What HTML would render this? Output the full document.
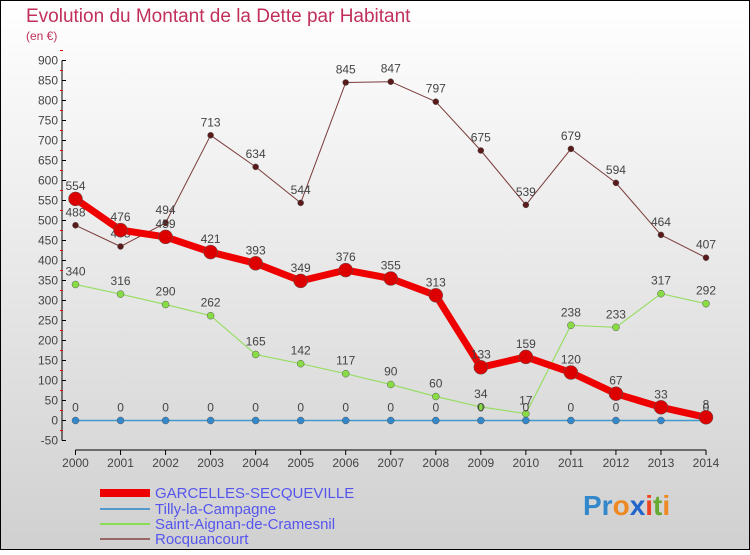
<!DOCTYPE html>
<html><head><meta charset="utf-8"><style>
body{margin:0}
#c{width:750px;height:550px;position:relative;font-family:"Liberation Sans",sans-serif;}
</style></head><body>
<div id="c">
<svg id="s" width="750" height="550" xmlns="http://www.w3.org/2000/svg">
<defs><linearGradient id="bg" x1="0" y1="0" x2="0" y2="1"><stop offset="0" stop-color="#ffffff"/><stop offset="1" stop-color="#d0d0d0"/></linearGradient></defs>
<rect x="0.5" y="0.5" width="749" height="549" fill="url(#bg)" stroke="#000"/>
<text x="26" y="22" font-size="19" fill="#c0305a">Evolution du Montant de la Dette par Habitant</text>
<text x="26" y="40" font-size="12" fill="#c0305a">(en €)</text>
<g id="axes"></g><g id="series"></g>
<g>
<line x1="100" y1="493" x2="150" y2="493" stroke="#ee0000" stroke-width="8"/>
<text x="155" y="498" font-size="15" fill="#5555ee">GARCELLES-SECQUEVILLE</text>
<line x1="100" y1="509" x2="150" y2="509" stroke="#5599cc" stroke-width="2"/>
<text x="155" y="514" font-size="15" fill="#5555ee">Tilly-la-Campagne</text>
<line x1="100" y1="524" x2="150" y2="524" stroke="#88dd55" stroke-width="2"/>
<text x="155" y="529" font-size="15" fill="#5555ee">Saint-Aignan-de-Cramesnil</text>
<line x1="100" y1="539" x2="150" y2="539" stroke="#996666" stroke-width="2"/>
<text x="155" y="544" font-size="15" fill="#5555ee">Rocquancourt</text>
</g>
<g font-size="28" font-weight="bold">
<text x="583" y="515"><tspan fill="#3388cc">Pr</tspan><tspan fill="#ee8822">o</tspan><tspan fill="#2266cc">x</tspan><tspan fill="#ee4422">i</tspan><tspan fill="#66aa33">t</tspan><tspan fill="#ee8822">i</tspan></text>
</g>
</svg>
</div>
<script>
const years=[2000,2001,2002,2003,2004,2005,2006,2007,2008,2009,2010,2011,2012,2013,2014];
const yTicks=[-50,0,50,100,150,200,250,300,350,400,450,500,550,600,650,700,750,800,850,900];
const garcelles=[554,476,459,421,393,349,376,355,313,133,159,120,67,33,8];
const tilly=[0,0,0,0,0,0,0,0,0,0,0,0,0,0,0];
const saintAignan=[340,316,290,262,165,142,117,90,60,34,17,238,233,317,292];
const rocquancourt=[488,435,494,713,634,544,845,847,797,675,539,679,594,464,407];
const NS="http://www.w3.org/2000/svg";
function X(i){return 75.5+i*(706-75.5)/(years.length-1);}
function Y(v){return 420.5-v*0.4;}
function mk(tag,attrs,parent){const e=document.createElementNS(NS,tag);for(const k in attrs)e.setAttribute(k,attrs[k]);parent.appendChild(e);return e;}
const ax=document.getElementById('axes');
let yl=mk('line',{x1:62,y1:Y(900),x2:62,y2:Y(-50),stroke:'#000'},ax);


yTicks.forEach(t=>{
 mk('line',{x1:62,y1:Y(t),x2:66,y2:Y(t),stroke:'#000'},ax);
 mk('line',{x1:60,y1:Y(t+25),x2:63,y2:Y(t+25),stroke:'#e00'},ax);
 const tx=mk('text',{x:58,y:Y(t)+4,'font-size':12,'text-anchor':'end',fill:'#444'},ax);
 tx.textContent=t;
 
 
});
let xl=mk('line',{x1:X(0),y1:450,x2:X(years.length-1),y2:450,stroke:'#000'},ax);


years.forEach((yr,i)=>{
 mk('line',{x1:X(i),y1:450,x2:X(i),y2:455,stroke:'#000'},ax);
 const tx=mk('text',{x:X(i),y:467,'font-size':12,'text-anchor':'middle',fill:'#444'},ax);
 tx.textContent=yr;
 
 
});
const sg=document.getElementById('series');
function series(vals,color,w,r,name,dot){
 const g=mk('g',{},sg);
 
 
 const p=mk('polyline',{points:vals.map((v,i)=>X(i)+','+Y(v)).join(' '),fill:'none',stroke:color,'stroke-width':w,'stroke-linejoin':'round'},g);
 
 
 vals.forEach((v,i)=>{
  const c=mk('circle',{cx:X(i),cy:Y(v),r:r,fill:dot,stroke:'#555','stroke-width':0.5},g);
  
  
  const t=mk('text',{x:X(i),y:Y(v)-9,'font-size':12,'text-anchor':'middle',fill:'#444'},g);
  t.textContent=v;
  
  
 });
}
series(rocquancourt,'#7a3a3a',1,3,'rocquancourt','#5a1a1a');
series(saintAignan,'#99dd66',1.2,3.5,'saint-aignan','#88dd44');
series(tilly,'#4499cc',1.5,3.5,'tilly','#3388cc');
series(garcelles,'#ee0000',7,7,'garcelles','#dd0000');
</script>
</body></html>
